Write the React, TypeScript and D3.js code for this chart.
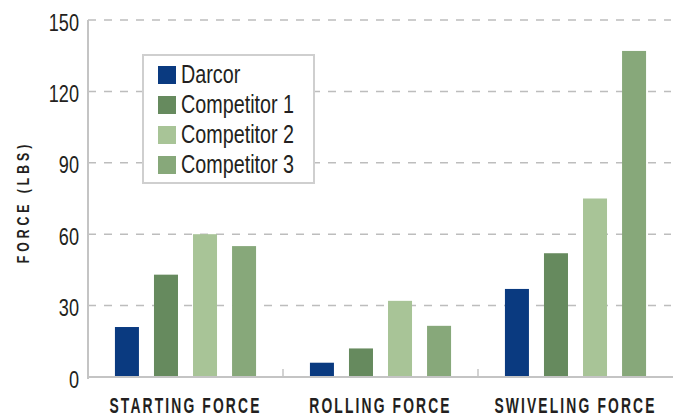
import React from 'react';
import * as d3 from 'd3';

const categories = ['STARTING FORCE', 'ROLLING FORCE', 'SWIVELING FORCE'];
const seriesNames = ['Darcor', 'Competitor 1', 'Competitor 2', 'Competitor 3'];
const darcor = [21, 6, 37];
const competitor1 = [43, 12, 52];
const competitor2 = [60, 32, 75];
const competitor3 = [55, 21.5, 137];
const yTicks = [0, 30, 60, 90, 120, 150];
const colors = ['#0a3a80', '#668a5e', '#a8c497', '#87a87a'];

const seriesValues = [darcor, competitor1, competitor2, competitor3];

const W = 678;
const H = 417;
const margin = { top: 20, right: 5, bottom: 40, left: 88 };
// no condensed face installed, so squeeze Liberation Sans horizontally
const FONT = '"Liberation Sans", Arial, sans-serif';
const TEXT = '#231f20';

export default function App() {
  const innerW = W - margin.left - margin.right;
  const innerH = H - margin.top - margin.bottom;

  const x0 = d3.scaleBand().domain(categories).range([0, innerW]).padding(0);
  const x1 = d3
    .scaleBand()
    .domain(seriesNames)
    .range([0, x0.bandwidth()])
    .paddingInner(0.385)
    .paddingOuter(0.69);
  const y = d3.scaleLinear().domain([0, 150]).range([innerH, 0]);

  return (
    <div style={{ position: 'absolute', left: 0, top: 0, width: W, height: H }}>
      <style>{'html,body{margin:0;padding:0;overflow:hidden;}'}</style>
      <svg width={W} height={H} style={{ display: 'block', background: '#fff' }}>
        <g transform={`translate(${margin.left},${margin.top})`}>
          {/* gridlines */}
          {yTicks.filter(t => t > 0).map(t => (
            <line
              key={t}
              x1={0}
              x2={innerW - 2}
              y1={y(t)}
              y2={y(t)}
              stroke="#bdbdbd"
              strokeWidth={1.5}
              strokeDasharray="8,8"
            />
          ))}

          {/* bars */}
          {categories.map((c, ci) => (
            <g key={c} transform={`translate(${x0(c)},0)`}>
              {seriesNames.map((s, si) => {
                const v = seriesValues[si][ci];
                return (
                  <rect
                    key={s}
                    x={x1(s)}
                    y={y(v)}
                    width={x1.bandwidth()}
                    height={innerH - y(v)}
                    fill={colors[si]}
                  />
                );
              })}
            </g>
          ))}

          {/* axes */}
          <line x1={0} x2={0} y1={0} y2={innerH + 2} stroke="#c4c4c4" strokeWidth={2} />
          <line x1={0} x2={innerW} y1={innerH} y2={innerH} stroke="#c4c4c4" strokeWidth={2} />
          {categories.slice(1).map(c => (
            <line
              key={c}
              x1={x0(c)}
              x2={x0(c)}
              y1={innerH}
              y2={innerH - 8}
              stroke="#c4c4c4"
              strokeWidth={1.5}
            />
          ))}

          {/* y tick labels */}
          {yTicks.map(t => (
            <text
              key={t}
              transform={`translate(-9,${y(t) + 10.5}) scale(0.77,1)`}
              textAnchor="end"
              fontFamily={FONT}
              fontSize={23.5}
              fill={TEXT}
            >
              {t}
            </text>
          ))}

          {/* x labels */}
          {categories.map(c => (
            <text
              key={c}
              transform={`translate(${(x0(c) ?? 0) + x0.bandwidth() / 2},${innerH + 36}) scale(0.63,1)`}
              textAnchor="middle"
              fontFamily={FONT}
              fontWeight="bold"
              fontSize={22}
              letterSpacing={3.4}
              fill={TEXT}
            >
              {c}
            </text>
          ))}
        </g>

        {/* y axis title */}
        <text
          transform="translate(29,202) rotate(-90) scale(0.72,1)"
          textAnchor="middle"
          fontFamily={FONT}
          fontWeight="bold"
          fontSize={17}
          letterSpacing={5.5}
          fill={TEXT}
        >
          FORCE (LBS)
        </text>

        {/* legend */}
        <g transform="translate(143,55)">
          <rect x={0} y={0} width={171} height={128} fill="#fff" stroke="#cfcfcf" strokeWidth={2} />
          {seriesNames.map((s, i) => (
            <g key={s} transform={`translate(15,${11 + i * 30})`}>
              <rect x={0} y={0} width={18} height={18} fill={colors[i]} />
              <text
                transform="translate(23,17) scale(0.76,1)"
                fontFamily={FONT}
                fontSize={26}
                fill={TEXT}
              >
                {s}
              </text>
            </g>
          ))}
        </g>
      </svg>
    </div>
  );
}
